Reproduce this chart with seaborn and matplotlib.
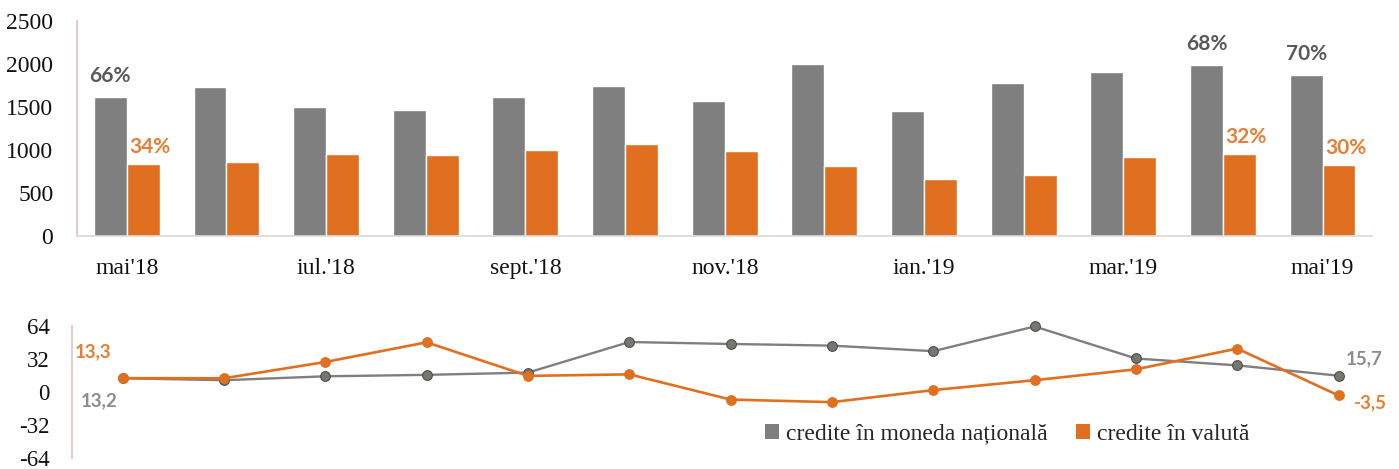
import pandas as pd
import seaborn as sns
import matplotlib.pyplot as plt
from matplotlib.patches import Patch

# date
luni = ["mai'18", "iun.'18", "iul.'18", "aug.'18", "sept.'18", "oct.'18", "nov.'18",
        "dec.'18", "ian.'19", "feb.'19", "mar.'19", "apr.'19", "mai'19"]
credite_mdl = [1620, 1730, 1500, 1465, 1617, 1745, 1570, 2000, 1454, 1780, 1907, 1989, 1872]
credite_valuta = [837, 860, 953, 942, 1000, 1070, 988, 814, 663, 709, 919, 953, 826]
crestere_mdl = [13.2, 11.3, 15.1, 16.5, 18.7, 48.4, 46.5, 44.9, 39.5, 63.5, 32.4, 25.7, 15.7]
crestere_valuta = [13.3, 13.2, 29.0, 48.1, 15.5, 17.0, -7.5, -10.0, 1.7, 11.3, 21.9, 42.0, -3.5]
cota_idx = [0, 11, 12]
cota_mdl = ["66%", "68%", "70%"]
cota_valuta = ["34%", "32%", "30%"]
serii = ["credite în moneda națională", "credite în valută"]

GRI = "#7f7f7f"
PORTOCALIU = "#e07020"
ROZ = "#e3c4c4"

sns.set_theme(style="white")
plt.rcParams["font.family"] = ["Liberation Serif", "DejaVu Serif"]
plt.rcParams["axes.unicode_minus"] = False

df = pd.DataFrame({
    "luna": luni * 2,
    "tip": [serii[0]] * len(luni) + [serii[1]] * len(luni),
    "valoare": credite_mdl + credite_valuta,
})

fig = plt.figure(figsize=(13.99, 4.69), dpi=100)
ax1 = fig.add_axes([0.055, 0.497, 0.926, 0.458])
ax2 = fig.add_axes([0.0515, 0.024, 0.9415, 0.281])

# bare
sns.barplot(data=df, x="luna", y="valoare", hue="tip", palette=[GRI, PORTOCALIU],
            width=0.66, gap=0, saturation=1, legend=False, ax=ax1)
ax1.set_xlim(-0.5, 12.5)
ax1.set_ylim(0, 2500)
ax1.set_yticks(range(0, 2501, 500))
ax1.set_xticks(range(0, 13, 2))
ax1.set_xticklabels(luni[::2])
ax1.set_xticks([i - 0.5 for i in range(0, 13, 2)], minor=True)
ax1.tick_params(axis="x", which="major", length=0, pad=16, labelsize=17, colors="#111111")
ax1.tick_params(axis="x", which="minor", length=6, width=1, color="#d9d9d9", direction="out")
ax1.tick_params(axis="y", length=0, pad=17, labelsize=17, colors="#111111")
ax1.set_xlabel("")
ax1.set_ylabel("")
for s in ["top", "right"]:
    ax1.spines[s].set_visible(False)
ax1.spines["left"].set_color(ROZ)
ax1.spines["bottom"].set_color("#d9d9d9")
ax1.spines["bottom"].set_linewidth(1.2)

for k, i in enumerate(cota_idx):
    ax1.annotate(cota_mdl[k], (i - 0.165, credite_mdl[i]), xytext=(0, 15),
                 textcoords="offset points", ha="center", va="center",
                 fontsize=15, fontweight="bold", color="#595959", family="Lato")
    ax1.annotate(cota_valuta[k], (i + 0.165, credite_valuta[i]), xytext=(5, 12),
                 textcoords="offset points", ha="center", va="center",
                 fontsize=15, fontweight="bold", color="#e67e33", family="Lato")

# linii
x = list(range(len(luni)))
sns.lineplot(x=x, y=crestere_mdl, color=GRI, linewidth=1.7, marker="o", markersize=7,
             markerfacecolor="#76776f", markeredgecolor="#4d4d4d", markeredgewidth=0.8,
             clip_on=False, ax=ax2)
sns.lineplot(x=x, y=crestere_valuta, color=PORTOCALIU, linewidth=1.9, marker="o", markersize=7,
             markerfacecolor=PORTOCALIU, markeredgecolor=PORTOCALIU, clip_on=False, ax=ax2)
ax2.set_xlim(-0.5, 12.5)
ax2.set_ylim(-64, 64)
ax2.set_yticks([-64, -32, 0, 32, 64])
ax2.set_xticks([])
ax2.tick_params(axis="y", length=5, width=1, color=ROZ, direction="out", pad=11,
                labelsize=16.5, colors="#111111")
for s in ["top", "right", "bottom"]:
    ax2.spines[s].set_visible(False)
ax2.spines["left"].set_color(ROZ)

def eticheta(txt, xy, off, culoare, ha):
    ax2.annotate(txt, xy, xytext=off, textcoords="offset points", ha=ha, va="center",
                 fontsize=13.5, fontweight="bold", color=culoare, family="Lato")

eticheta(f"{crestere_valuta[0]:.1f}".replace(".", ","), (0, crestere_valuta[0]), (-8, 19), "#e67e33", "right")
eticheta(f"{crestere_mdl[0]:.1f}".replace(".", ","), (0, crestere_mdl[0]), (-30, -16), "#8c8c8c", "left")
eticheta(f"{crestere_mdl[-1]:.1f}".replace(".", ","), (12, crestere_mdl[-1]), (5, 12), "#8c8c8c", "left")
eticheta(f"{crestere_valuta[-1]:.1f}".replace(".", ","), (12, crestere_valuta[-1]), (11, -5), "#e67e33", "left")

handles = [Patch(facecolor=GRI, edgecolor="none"), Patch(facecolor=PORTOCALIU, edgecolor="none")]
ax2.legend(handles, serii, loc="center", bbox_to_anchor=(0.71, 0.18), ncol=2, frameon=False,
           fontsize=17, handlelength=0.6, handleheight=0.6, handletextpad=0.3,
           columnspacing=1.2, borderaxespad=0)

fig.savefig("out.png", dpi=100)
